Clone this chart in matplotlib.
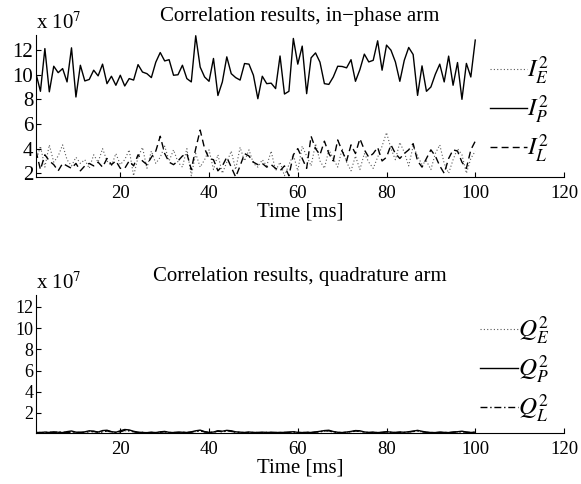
import matplotlib
matplotlib.use('Agg')
import matplotlib.pyplot as plt
import numpy as np

plt.rcParams.update({
    'font.family'      : ['Liberation Serif', 'DejaVu Serif'],
    'mathtext.fontset' : 'stix',
    'font.size'        : 15,
    'xtick.direction'  : 'in',
    'ytick.direction'  : 'in',
    'axes.linewidth'   : 0.8,
})

# ----------------------------------------------------------------
# data (units of 1e7), one sample per ms
# ----------------------------------------------------------------
t = np.arange(1, 101)

IE = [3.0, 4.2, 2.5, 4.3, 2.9, 3.4, 4.3, 3.1, 2.6, 3.3,
      2.8, 3.1, 2.4, 3.5, 2.9, 4.0, 3.0, 2.6, 3.6, 2.7,
      3.1, 3.9, 1.8, 3.3, 4.1, 2.4, 3.8, 2.8, 3.3, 4.2,
      3.0, 3.9, 2.9, 2.5, 4.0, 1.8, 3.6, 2.5, 3.1, 3.9,
      2.3, 3.5, 2.0, 2.9, 3.8, 2.3, 4.1, 3.0, 3.9, 2.8,
      2.5, 3.1, 2.6, 3.8, 2.2, 2.9, 1.8, 2.7, 3.5, 2.2,
      4.2, 3.4, 2.6, 4.4, 3.0, 2.4, 3.9, 3.2, 2.5, 4.0,
      2.9, 2.2, 3.4, 2.3, 3.6, 2.9, 2.4, 3.3, 4.2, 5.3,
      4.0, 3.1, 4.5, 3.7, 2.6, 4.2, 3.4, 2.7, 3.0, 2.3,
      3.6, 4.3, 2.8, 2.0, 3.1, 4.0, 3.5, 2.0, 3.2, 3.8]

IP = [10.07, 8.64, 12.1, 8.6, 10.67, 10.15, 10.48, 9.4, 12.16, 8.18,
      10.75, 9.48, 9.6, 10.35, 9.89, 10.84, 9.26, 9.86, 9.13, 9.94,
      9.07, 9.67, 9.55, 10.8, 10.2, 10.07, 9.75, 11.0, 11.78, 11.1,
      11.2, 9.94, 9.98, 10.75, 9.67, 9.4, 13.14, 10.6, 9.8, 9.45,
      11.3, 8.3, 9.4, 11.43, 10.07, 9.75, 9.55, 10.89, 10.84, 9.94,
      8.04, 9.86, 9.26, 9.3, 8.86, 11.5, 8.42, 8.64, 12.92, 10.84,
      12.3, 8.45, 11.35, 11.75, 11.0, 9.26, 9.2, 9.8, 10.67, 10.65,
      10.54, 11.2, 9.45, 10.4, 11.65, 11.02, 11.15, 12.73, 10.35, 12.38,
      11.97, 11.02, 9.45, 11.15, 12.19, 11.62, 8.31, 10.7, 8.64, 8.99,
      10.02, 10.84, 9.4, 11.49, 9.13, 10.97, 7.99, 10.9, 9.8, 12.79]

IL = [3.8, 2.3, 3.5, 3.0, 2.7, 2.2, 2.8, 2.6, 2.4, 2.8,
      2.2, 2.6, 2.8, 2.6, 2.9, 2.5, 3.2, 2.7, 3.0, 2.4,
      2.4, 3.0, 2.6, 3.5, 3.0, 2.7, 3.3, 3.8, 5.0, 3.6,
      2.9, 2.7, 3.0, 3.4, 3.6, 2.3, 4.0, 5.5, 4.0, 3.2,
      3.1, 2.2, 2.6, 3.3, 2.5, 1.7, 2.6, 3.6, 3.4, 2.9,
      2.7, 2.8, 2.5, 2.7, 2.4, 2.2, 2.6, 1.8, 3.5, 4.0,
      3.2, 2.4, 5.0, 4.0, 3.5, 4.6, 3.6, 3.0, 4.7, 3.8,
      3.0, 4.3, 3.6, 4.8, 3.9, 3.3, 3.6, 4.1, 3.0, 3.3,
      4.3, 3.6, 3.2, 3.6, 3.9, 4.4, 3.0, 2.5, 3.2, 3.9,
      3.4, 2.6, 2.0, 3.2, 3.9, 3.8, 2.9, 2.4, 3.9, 4.6]

QE = [0.14, 0.18, 0.12, 0.16, 0.13, 0.2, 0.15, 0.12, 0.22, 0.16,
      0.13, 0.18, 0.24, 0.2, 0.15, 0.22, 0.27, 0.18, 0.14, 0.25,
      0.3, 0.33, 0.2, 0.15, 0.12, 0.14, 0.12, 0.15, 0.18, 0.2,
      0.13, 0.12, 0.15, 0.13, 0.16, 0.14, 0.24, 0.28, 0.18, 0.13,
      0.16, 0.25, 0.2, 0.27, 0.24, 0.16, 0.14, 0.12, 0.15, 0.13,
      0.12, 0.16, 0.13, 0.15, 0.12, 0.14, 0.13, 0.16, 0.18, 0.14,
      0.12, 0.15, 0.13, 0.17, 0.2, 0.25, 0.28, 0.18, 0.14, 0.12,
      0.16, 0.2, 0.26, 0.24, 0.16, 0.13, 0.15, 0.12, 0.14, 0.18,
      0.15, 0.13, 0.16, 0.14, 0.18, 0.22, 0.27, 0.2, 0.15, 0.13,
      0.12, 0.15, 0.14, 0.12, 0.16, 0.18, 0.22, 0.16, 0.13, 0.15]

QP = [0.16, 0.13, 0.19, 0.15, 0.21, 0.17, 0.14, 0.23, 0.29, 0.18,
      0.15, 0.21, 0.31, 0.27, 0.19, 0.33, 0.36, 0.23, 0.17, 0.31,
      0.43, 0.39, 0.26, 0.18, 0.15, 0.13, 0.17, 0.14, 0.21, 0.25,
      0.16, 0.14, 0.19, 0.17, 0.15, 0.21, 0.31, 0.37, 0.23, 0.16,
      0.19, 0.31, 0.27, 0.35, 0.31, 0.21, 0.18, 0.15, 0.19, 0.16,
      0.14, 0.18, 0.15, 0.17, 0.14, 0.16, 0.15, 0.19, 0.22, 0.16,
      0.14, 0.17, 0.15, 0.2, 0.26, 0.33, 0.36, 0.24, 0.17, 0.14,
      0.19, 0.25, 0.33, 0.31, 0.2, 0.15, 0.18, 0.14, 0.17, 0.22,
      0.18, 0.15, 0.19, 0.17, 0.22, 0.28, 0.35, 0.26, 0.18, 0.15,
      0.14, 0.18, 0.16, 0.14, 0.19, 0.22, 0.27, 0.19, 0.15, 0.18]

QL = [0.12, 0.15, 0.13, 0.18, 0.14, 0.16, 0.19, 0.13, 0.2, 0.15,
      0.17, 0.14, 0.22, 0.25, 0.17, 0.2, 0.3, 0.21, 0.15, 0.22,
      0.35, 0.3, 0.22, 0.14, 0.16, 0.13, 0.15, 0.12, 0.17, 0.22,
      0.14, 0.15, 0.13, 0.18, 0.13, 0.18, 0.26, 0.32, 0.2, 0.14,
      0.17, 0.28, 0.22, 0.3, 0.26, 0.18, 0.15, 0.13, 0.16, 0.14,
      0.15, 0.13, 0.16, 0.14, 0.15, 0.13, 0.16, 0.15, 0.2, 0.15,
      0.13, 0.16, 0.14, 0.18, 0.22, 0.29, 0.31, 0.2, 0.15, 0.13,
      0.17, 0.22, 0.29, 0.27, 0.18, 0.14, 0.16, 0.13, 0.15, 0.2,
      0.16, 0.14, 0.17, 0.15, 0.2, 0.25, 0.31, 0.22, 0.16, 0.14,
      0.13, 0.16, 0.15, 0.13, 0.17, 0.2, 0.24, 0.17, 0.14, 0.16]

x_ticks = [20, 40, 60, 80, 100, 120]
y_ticks = [2, 4, 6, 8, 10, 12]

# ----------------------------------------------------------------
# figure
# ----------------------------------------------------------------
W, H = 581, 484
fig = plt.figure(figsize=(W/100, H/100), dpi=100)

def px_axes(left, top, right, bottom):
    return fig.add_axes([left/W, 1 - bottom/H, (right-left)/W, (bottom-top)/H])

ax_i = px_axes(36, 35, 564, 177)
ax_q = px_axes(36, 295, 564, 433)

lw = 1.0
dot = (0, (1, 2))
ax_i.plot(t, IE, color='0.35', lw=0.8, ls=dot, label=r'$I_E^2$')
ax_i.plot(t, IP, color='k', lw=lw, ls='-', label=r'$I_P^2$')
ax_i.plot(t, IL, color='k', lw=lw, ls=(0, (5, 3)), label=r'$I_L^2$')

ax_q.plot(t, QE, color='0.35', lw=0.8, ls=dot, label=r'$Q_E^2$')
ax_q.plot(t, QP, color='k', lw=lw, ls='-', label=r'$Q_P^2$')
ax_q.plot(t, QL, color='k', lw=lw, ls=(0, (5, 2, 1, 2)), label=r'$Q_L^2$')

ax_i.set_ylim(1.7, 13.2)
ax_q.set_ylim(0.1, 13.13)

titles = ['Correlation results, in\u2212phase arm',
          'Correlation results, quadrature arm']
ytick_sizes = [15, 13]
for ax, ttl, ysz in zip((ax_i, ax_q), titles, ytick_sizes):
    ax.set_xlim(1, 120)
    ax.set_xticks(x_ticks)
    ax.set_yticks(y_ticks)
    ax.spines['top'].set_visible(False)
    ax.spines['right'].set_visible(False)
    ax.tick_params(length=3.5, width=0.8)
    ax.tick_params(axis='x', labelsize=13.5, pad=6)
    ax.tick_params(axis='y', labelsize=ysz, pad=2)
    ax.set_xlabel('Time [ms]', fontsize=15, labelpad=0)
    ax.set_title(ttl, fontsize=15, pad=10)
    ax.text(0, 1.01, r'x 10$^{7}$', transform=ax.transAxes,
            ha='left', va='bottom', fontsize=15)
    ax.legend(loc='upper right', bbox_to_anchor=(0.99, 0.93),
              frameon=False, fontsize=18, handlelength=1.5,
              handletextpad=0.0, labelspacing=0.3, borderaxespad=0)

fig.savefig('out.png', dpi=100)
